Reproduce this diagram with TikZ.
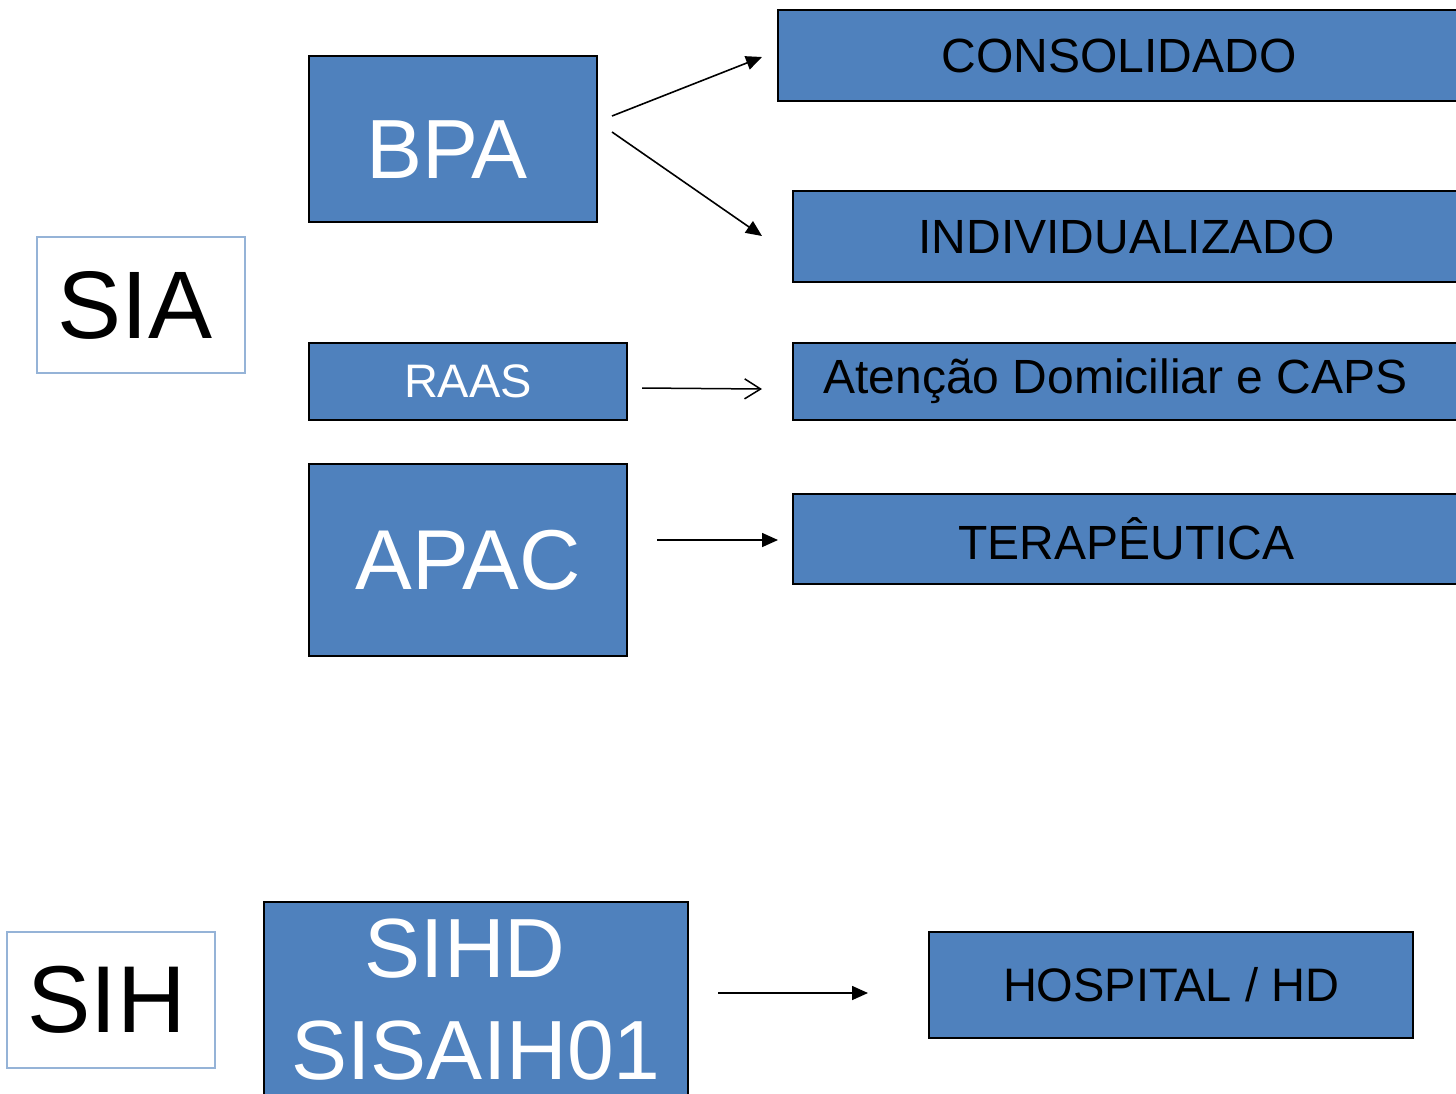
\documentclass[tikz,border=0pt]{standalone}
\usepackage{fontspec}
\setmainfont{Liberation Sans}
\usetikzlibrary{arrows.meta}
\definecolor{boxblue}{HTML}{4F81BD}
\definecolor{lightframe}{HTML}{95B3D7}
\begin{document}
\begin{tikzpicture}[x=1pt,y=-1pt,
  bluebox/.style={draw=black,line width=1.5pt,fill=boxblue,inner sep=0pt,anchor=center},
  whitebox/.style={draw=lightframe,line width=1.2pt,fill=white,inner sep=0pt,anchor=center,text=black},
  fs/.style={font=\fontsize{#1}{#1}\selectfont},
  filledarrow/.style={line width=1.6pt,-{Triangle[length=16pt,width=14pt]}},
  openarrow/.style={line width=1.5pt,-{Straight Barb[length=16pt,width=20pt,line width=1.5pt]}}
]
\useasboundingbox (0,0) rectangle (1456,1093);
\clip (0,0) rectangle (1456,1093);
% SIA group
\node[whitebox,minimum width=208pt,minimum height=136pt,fs=96] (sia) at (141,305) {SIA\hspace*{12pt}};
\node[bluebox,minimum width=288pt,minimum height=166pt,text=white,fs=84,text height=78pt,text depth=0pt] (bpa) at (453,139) {BPA\hspace*{12pt}};
\node[bluebox,minimum width=682pt,minimum height=91pt,text=black,fs=48] (cons) at (1119,55.5) {CONSOLIDADO};
\node[bluebox,minimum width=667pt,minimum height=91pt,text=black,fs=48] (indiv) at (1126.5,236.5) {INDIVIDUALIZADO};
\node[bluebox,minimum width=318pt,minimum height=77pt,text=white,fs=47] (raas) at (468,381.5) {RAAS};
\node[bluebox,minimum width=667pt,minimum height=77pt,text=black,fs=48] (aten) at (1126.5,381.5) {Atenção Domiciliar e CAPS\hspace*{22pt}};
\node[bluebox,minimum width=318pt,minimum height=192pt,text=white,fs=85] (apac) at (468,560) {APAC};
\node[bluebox,minimum width=667pt,minimum height=90pt,text=black,fs=48] (tera) at (1126.5,539) {TERAPÊUTICA};
% SIH group
\node[whitebox,minimum width=208pt,minimum height=136pt,fs=95] (sih) at (111,1000) {SIH\hspace*{9pt}};
\node[bluebox,minimum width=424pt,minimum height=195pt,text=white,align=center,font=\fontsize{84}{102}\selectfont] (sihd) at (476,999.5) {SIHD\hspace*{22pt}\\SISAIH01};
\node[bluebox,minimum width=484pt,minimum height=106pt,text=black,fs=47] (hosp) at (1171,985) {HOSPITAL / HD};
% arrow end points
\coordinate (bpaA) at (612,116);
\coordinate (bpaB) at (612,132);
\coordinate (consIn) at (762,57);
\coordinate (indivIn) at (762,236);
\coordinate (raasOut) at (642,388);
\coordinate (atenIn) at (762,389);
\coordinate (apacOut) at (657,540);
\coordinate (teraIn) at (778,540);
\coordinate (sihdOut) at (718,993);
\coordinate (hospIn) at (868,993);
\draw[filledarrow] (bpaA) -- (consIn);
\draw[filledarrow] (bpaB) -- (indivIn);
\draw[openarrow] (raasOut) -- (atenIn);
\draw[filledarrow] (apacOut) -- (teraIn);
\draw[filledarrow] (sihdOut) -- (hospIn);
\end{tikzpicture}
\end{document}
